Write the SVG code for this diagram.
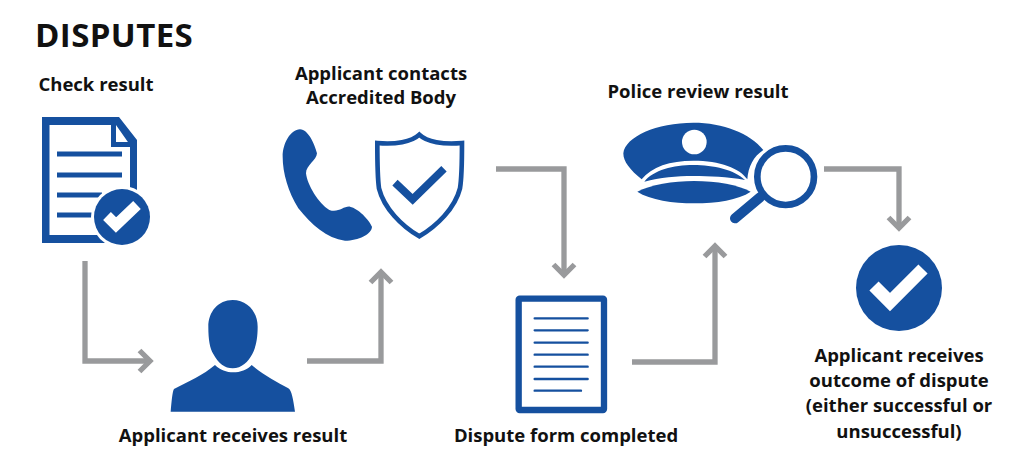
<svg xmlns="http://www.w3.org/2000/svg" width="1024" height="474" viewBox="0 0 1024 474">
<style>
.l{font-family:"Open Sans","Liberation Sans",sans-serif;font-weight:700;font-size:18.5px;fill:#111;text-anchor:middle}
.b{fill:#15509f}
.o{fill:none;stroke:#15509f}
.w{fill:#fff}
.k{fill:none;stroke:#fff}
.c{fill:none;stroke:#999a9c;stroke-width:5.300}
</style>
<defs>
<marker id="h" markerUnits="userSpaceOnUse" markerWidth="24" markerHeight="30" refX="18" refY="15" orient="auto"><path d="M7.500 4.500L18 15L7.500 25.500" fill="none" stroke="#999a9c" stroke-width="5.300"/></marker>
</defs>
<rect width="1024" height="474" fill="#fff"/>
<text x="35" y="47" style="font-family:'Open Sans','Liberation Sans',sans-serif;font-weight:700;font-size:33px;letter-spacing:.4px;fill:#111">DISPUTES</text>
<g id="connectors">
<path class="c" marker-end="url(#h)" d="M85 261V361H150"/>
<path class="c" marker-end="url(#h)" d="M307 361H381V272"/>
<path class="c" marker-end="url(#h)" d="M496 169H564V275"/>
<path class="c" marker-end="url(#h)" d="M632 362H715V246"/>
<path class="c" marker-end="url(#h)" d="M824 169H899V228"/>
</g>
<g id="check-result">
<text class="l" x="96" y="91">Check result</text>
<path class="b" d="M42 117H119L137 140V224H130V145L116 125H49.500V235H110V243H42Z"/>
<path class="b" d="M111 123H116V142H130V147H111Z"/>
<path class="o" stroke-width="5" d="M57 154H122M57 175H122M57 195H102M57 215H92"/>
<circle class="w" cx="122" cy="217" r="31"/>
<circle class="b" cx="122" cy="217" r="28"/>
<path class="k" stroke-width="11" d="M107 216L116 225L137 205"/>
</g>
<g id="applicant-result">
<text class="l" x="233" y="442">Applicant receives result</text>
<g transform="translate(160 290) scale(.3333)">
<path class="b" d="M218 30C175 30 145 65 145 110C145 150 150 175 160 192C175 220 195 235 218 235C245 235 265 215 277 192C288 170 293 145 293 110C293 65 262 30 218 30Z"/>
<path class="b" d="M165 225C180 240 200 247 220 247C240 247 262 240 275 225C310 255 350 275 385 295C395 300 400 330 405 365H32C35 335 37 305 42 297C85 275 130 255 165 225Z"/>
</g>
</g>
<g id="accredited-body">
<text class="l" x="381" y="80">Applicant contacts</text>
<text class="l" x="381" y="104">Accredited Body</text>
<g transform="translate(270 120) scale(.3333)">
<path class="b" d="M90 28C115 28 135 75 141 100C140 122 108 135 108 160C112 195 145 250 178 270C205 280 220 258 240 260C265 265 298 300 306 320C306 342 265 362 225 362C170 355 125 315 85 265C55 215 38 160 38 110C38 70 62 28 90 28Z"/>
<path class="o" stroke-width="14" d="M448 44C425 66 375 74 322 69C322 110 322 170 327 205C342 265 395 318 448 349C500 318 555 265 570 205C576 170 576 110 576 69C520 74 470 66 448 44Z"/>
<path class="o" stroke-width="23" d="M375 188L428 238L522 146"/>
</g>
</g>
<g id="dispute-form">
<text class="l" x="566" y="442">Dispute form completed</text>
<g transform="translate(500 285) scale(.3333)">
<rect class="o" x="56" y="41" width="256" height="334" rx="3" stroke-width="19"/>
<path class="o" stroke-width="7" stroke-linecap="round" d="M104 100H263M104 136H263M104 173H263M104 209H263M104 245H263M104 282H263M104 317H243"/>
</g>
</g>
<g id="police-review">
<text class="l" x="698" y="98">Police review result</text>
<g transform="translate(610 120) scale(.3333)">
<path class="b" d="M95 178C60 150 40 125 40 100C45 50 140 8 250 8C340 8 420 40 460 90C430 110 415 140 412 178C390 145 330 122 250 122C180 122 125 140 95 178Z"/>
<circle class="w" cx="253" cy="66" r="37"/>
<path class="b" d="M103 185C130 150 190 135 250 135C310 135 375 150 405 180C350 170 300 168 250 168C200 168 150 172 103 185Z"/>
<path class="b" d="M82 215C120 195 190 183 252 183C320 183 385 195 422 215C385 240 320 250 252 250C190 250 120 240 82 215Z"/>
<circle class="o" cx="527" cy="170" r="85" stroke-width="20"/>
<path class="o" stroke-width="30" stroke-linecap="round" d="M450 232L375 295"/>
</g>
</g>
<g id="outcome">
<text class="l" x="899" y="362">Applicant receives</text>
<text class="l" x="899" y="387">outcome of dispute</text>
<text class="l" x="899" y="412">(either successful or</text>
<text class="l" x="899" y="438">unsuccessful)</text>
<circle class="b" cx="899" cy="288" r="43"/>
<path class="k" stroke-width="13" d="M874 286L890 302L923 269"/>
</g>
</svg>
